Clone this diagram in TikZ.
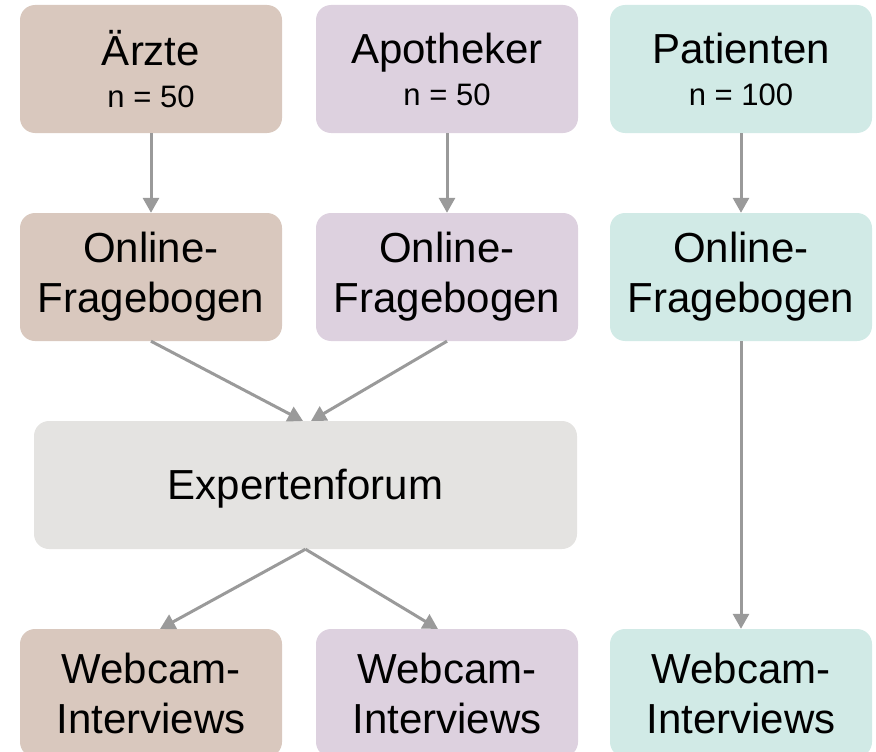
\documentclass[tikz,border=0pt]{standalone}
\usepackage{fontspec}
\setmainfont{Liberation Sans}
\usetikzlibrary{arrows.meta}

\definecolor{arztfarbe}{HTML}{D9C8BE}
\definecolor{apofarbe}{HTML}{DDD1DF}
\definecolor{patfarbe}{HTML}{D1EAE6}
\definecolor{expfarbe}{HTML}{E4E3E1}
\definecolor{pfeilfarbe}{HTML}{9A9A9A}

\tikzset{
  kasten/.style={rounded corners=15pt, minimum width=262pt, minimum height=128pt,
    inner sep=0pt, align=center, font=\fontsize{42}{50}\selectfont},
  pfeil/.style={draw=pfeilfarbe, line width=3pt,
    -{Triangle[width=16pt,length=15pt]}}
}
\newcommand{\anzahl}[1]{{\fontsize{31}{36}\selectfont #1}}
\newcommand{\tiefer}[1]{\raisebox{-4pt}[\height][\depth]{#1}}

\begin{document}
\begin{tikzpicture}[x=1pt,y=-1pt]
    \useasboundingbox (0,0) rectangle (876,752);

    % 第一行：三组
    \node[kasten,fill=arztfarbe] (arzt) at (151,69) {Ärzte\\[-8pt]\anzahl{n = 50}};
    \node[kasten,fill=apofarbe] (apo) at (447,69) {Apotheker\\[-8pt]\anzahl{n = 50}};
    \node[kasten,fill=patfarbe] (pat) at (741,69) {Patienten\\[-8pt]\anzahl{n = 100}};

    % 第二行：问卷
    \node[kasten,fill=arztfarbe] (onlA) at (151,277) {Online-\\Fragebogen};
    \node[kasten,fill=apofarbe] (onlB) at (447,277) {Online-\\Fragebogen};
    \node[kasten,fill=patfarbe] (onlP) at (741,277) {Online-\\Fragebogen};

    % 专家论坛
    \node[kasten,fill=expfarbe,minimum width=543pt] (exp) at (305.5,485) {\tiefer{Expertenforum}};

    % 最后一行
    \node[kasten,fill=arztfarbe] (webA) at (151,693) {Webcam-\\Interviews};
    \node[kasten,fill=apofarbe] (webB) at (447,693) {Webcam-\\Interviews};
    \node[kasten,fill=patfarbe] (webP) at (741,693) {Webcam-\\Interviews};

    % 箭头端点
    \coordinate (expL) at (303,421);
    \coordinate (expR) at (311,421);
    \coordinate (webAin) at (160,629);
    \coordinate (webBin) at (438,629);

    % 箭头
    \draw[pfeil] (arzt) -- (onlA);
    \draw[pfeil] (apo) -- (onlB);
    \draw[pfeil] (pat) -- (onlP);
    \draw[pfeil] (onlA.south) -- (expL);
    \draw[pfeil] (onlB.south) -- (expR);
    \draw[pfeil] (exp.south) -- (webAin);
    \draw[pfeil] (exp.south) -- (webBin);
    \draw[pfeil] (onlP) -- (webP);
\end{tikzpicture}
\end{document}
